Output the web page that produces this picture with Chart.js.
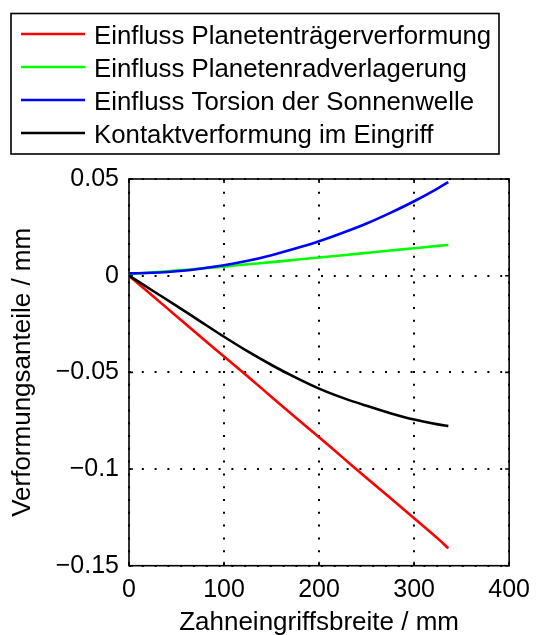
<!DOCTYPE html>
<html>
<head>
<meta charset="utf-8">
<script src="https://cdn.jsdelivr.net/npm/chart.js@4/dist/chart.umd.min.js"></script>
<style>
  html, body { margin: 0; padding: 0; background: #ffffff; }
  #wrap { width: 539px; height: 635px; }
</style>
</head>
<body>
<div id="wrap"><canvas id="c" width="539" height="635"></canvas></div>
<script>
// ---- data ----
const xValues = [0, 25, 50, 75, 100, 125, 150, 175, 200, 225, 250, 275, 300, 325, 336];
const planetentraeger = [0, -0.0105, -0.0210, -0.0315, -0.0418, -0.0522, -0.0627, -0.0732, -0.0836, -0.0941, -0.1046, -0.1150, -0.1255, -0.1360, -0.1410];
const planetenrad = [0.0008, 0.0017, 0.0026, 0.0037, 0.0047, 0.0059, 0.0070, 0.0082, 0.0094, 0.0106, 0.0118, 0.0130, 0.0142, 0.0154, 0.0159];
const sonnenwelle = [0.0012, 0.0015, 0.0023, 0.0036, 0.0054, 0.0077, 0.0106, 0.0140, 0.0178, 0.0222, 0.0270, 0.0325, 0.0385, 0.0452, 0.0484];
const kontakt = [0, -0.0078, -0.0156, -0.0236, -0.0316, -0.0392, -0.0462, -0.0526, -0.0584, -0.0632, -0.0673, -0.0711, -0.0744, -0.0769, -0.0778];

const seriesLabels = [
  'Einfluss Planetenträgerverformung',
  'Einfluss Planetenradverlagerung',
  'Einfluss Torsion der Sonnenwelle',
  'Kontaktverformung im Eingriff'
];
const xTickValues = [0, 100, 200, 300, 400];
const xTickLabels = ['0', '100', '200', '300', '400'];
const yTickValues = [0.05, 0, -0.05, -0.1, -0.15];
const yTickLabels = ['0.05', '0', '\u22120.05', '\u22120.1', '\u22120.15'];
const xTitle = 'Zahneingriffsbreite / mm';
const yTitle = 'Verformungsanteile / mm';

const toPts = arr => arr.map((v, i) => ({ x: xValues[i], y: v }));
const FONT = 'Liberation Sans, Arial, Helvetica, sans-serif';

// frame + inner tick marks
const framePlugin = {
  id: 'frame',
  beforeDatasetsDraw(chart) {
    const { ctx, chartArea: a, scales } = chart;
    ctx.save();
    ctx.strokeStyle = '#000';
    ctx.lineWidth = 1.6;
    ctx.setLineDash([]);
    ctx.strokeRect(a.left, a.top, a.right - a.left, a.bottom - a.top);
    const tl = 4;
    ctx.beginPath();
    scales.x.ticks.forEach(t => {
      const px = scales.x.getPixelForValue(t.value);
      ctx.moveTo(px, a.bottom); ctx.lineTo(px, a.bottom - tl);
      ctx.moveTo(px, a.top); ctx.lineTo(px, a.top + tl);
    });
    scales.y.ticks.forEach(t => {
      const py = scales.y.getPixelForValue(t.value);
      ctx.moveTo(a.left, py); ctx.lineTo(a.left + tl, py);
      ctx.moveTo(a.right, py); ctx.lineTo(a.right - tl, py);
    });
    ctx.stroke();
    ctx.restore();
  }
};

// boxed legend like the original figure
const boxedLegend = {
  id: 'boxedLegend',
  afterDraw(chart) {
    const { ctx } = chart;
    const ds = chart.data.datasets;
    ctx.save();
    ctx.fillStyle = '#fff';
    ctx.fillRect(11, 13.5, 488, 140.5);
    ctx.strokeStyle = '#000';
    ctx.lineWidth = 1.6;
    ctx.strokeRect(11, 13.5, 488, 140.5);
    ds.forEach((d, i) => {
      const yLine = 34 + i * 33;
      ctx.beginPath();
      ctx.strokeStyle = d.borderColor;
      ctx.lineWidth = 2.6;
      ctx.moveTo(21, yLine);
      ctx.lineTo(85, yLine);
      ctx.stroke();
      ctx.fillStyle = '#000';
      ctx.font = '25.8px ' + FONT;
      ctx.textBaseline = 'alphabetic';
      ctx.textAlign = 'left';
      ctx.fillText(d.label, 94, 43.5 + i * 33);
    });
    ctx.restore();
  }
};

const colors = ['#ff0000', '#00ff00', '#0000ff', '#000000'];
const values = [planetentraeger, planetenrad, sonnenwelle, kontakt];

new Chart(document.getElementById('c'), {
  type: 'line',
  data: {
    datasets: values.map((arr, i) => ({
      label: seriesLabels[i],
      data: toPts(arr),
      borderColor: colors[i],
      backgroundColor: colors[i],
      borderWidth: 2.6,
      pointRadius: 0,
      cubicInterpolationMode: 'monotone',
      fill: false,
      order: 4 - i
    }))
  },
  options: {
    responsive: false,
    animation: false,
    devicePixelRatio: 1,
    layout: { padding: { top: 179, right: 25.3, left: 0, bottom: 0 } },
    plugins: { legend: { display: false }, tooltip: { enabled: false } },
    scales: {
      x: {
        type: 'linear',
        min: 0, max: 400,
        afterBuildTicks: s => { s.ticks = xTickValues.map(v => ({ value: v })); },
        afterFit: s => { s.height = 69.3; },
        ticks: {
          color: '#000',
          font: { family: FONT, size: 25 },
          padding: 9,
          maxRotation: 0,
          autoSkip: false,
          callback: (v, i) => xTickLabels[i]
        },
        grid: { color: '#000', lineWidth: 2, drawTicks: false, borderDash: [2, 10.8] },
        border: { display: false, dash: [2, 10.8] },
        title: {
          display: true, text: xTitle, color: '#000',
          font: { family: FONT, size: 26 },
          padding: { top: 0, bottom: -3 }
        }
      },
      y: {
        type: 'linear',
        min: -0.15, max: 0.05,
        afterBuildTicks: s => { s.ticks = yTickValues.map(v => ({ value: v })); },
        afterFit: s => { s.width = 129; },
        ticks: {
          color: '#000',
          font: { family: FONT, size: 25 },
          padding: 10,
          autoSkip: false,
          callback: (v, i) => yTickLabels[i]
        },
        grid: { color: '#000', lineWidth: 2, drawTicks: false, borderDash: [2, 10.8] },
        border: { display: false, dash: [2, 10.8] },
        title: {
          display: true, text: yTitle, color: '#000',
          font: { family: FONT, size: 26 },
          padding: { top: 7, bottom: 0 }
        }
      }
    }
  },
  plugins: [framePlugin, boxedLegend]
});
</script>
</body>
</html>
